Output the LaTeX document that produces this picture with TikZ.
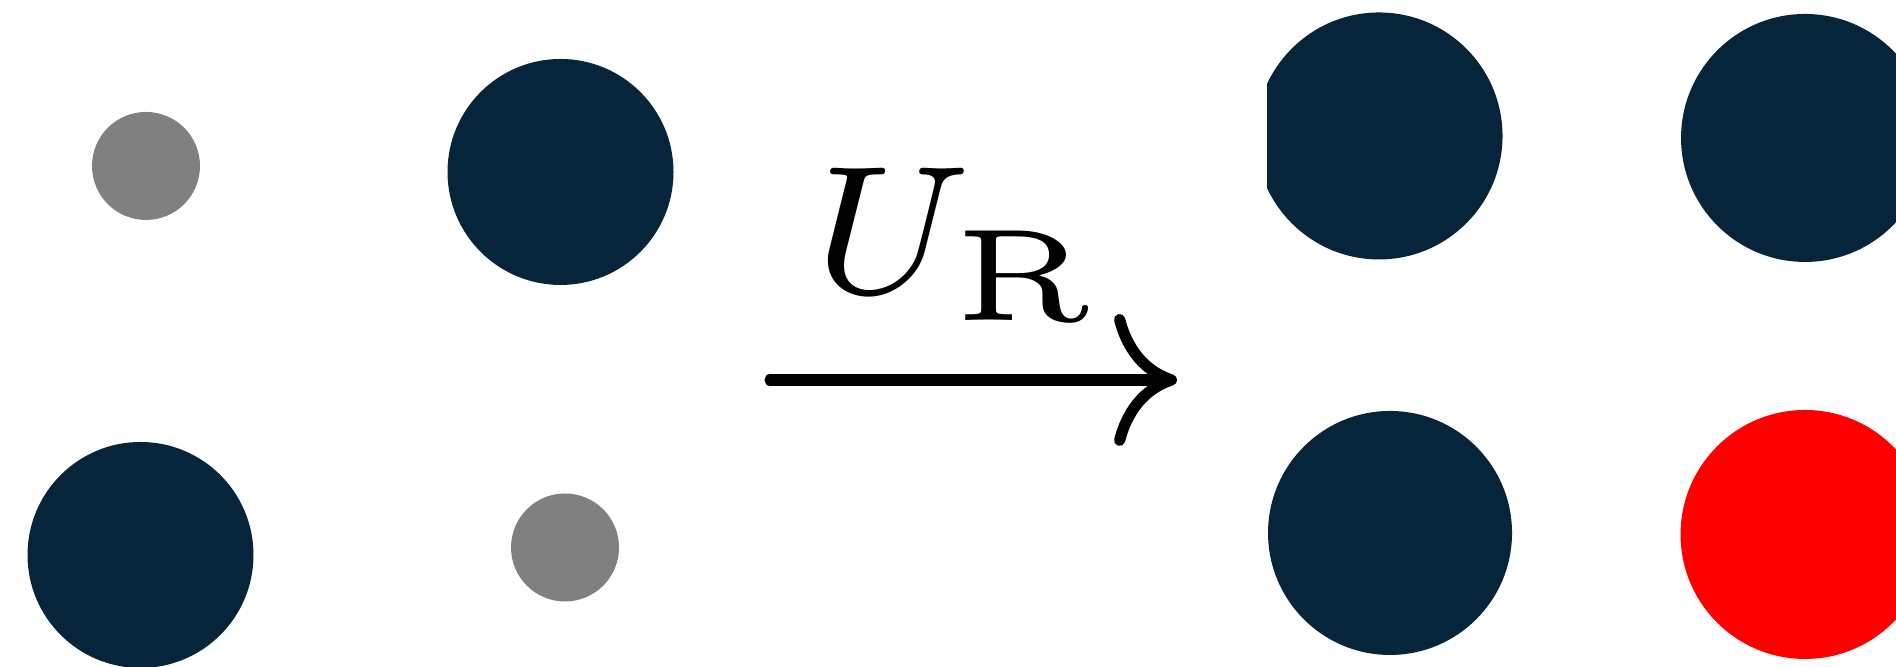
\documentclass[tikz,border=0pt]{standalone}
\usetikzlibrary{arrows.meta}
\definecolor{navy}{RGB}{7,37,58}
\definecolor{midgray}{RGB}{128,128,128}
\definecolor{pured}{RGB}{255,0,0}
\tikzset{
  dot/.style={circle, inner sep=0pt, outer sep=0pt, draw=none, minimum size=#1},
  bigdot/.style={dot=22.6pt, fill=navy},
  smalldot/.style={dot=10.8pt, fill=midgray},
  mapsto/.style={line width=1.12pt, line cap=round, -{To[length=6.3pt, width=13.2pt]}},
  maplabel/.style={anchor=base west, inner sep=0pt, scale=2.62, font=\fontsize{7}{8}\selectfont},
}
\begin{document}
\begin{tikzpicture}[x=0.1pt, y=-0.1pt]
\useasboundingbox (0,0) rectangle (1896,667);
\clip (0,0) rectangle (1896,667);
% left configuration
\node[smalldot] (g1) at (146,166) {};
\node[bigdot] (d1) at (560.5,172) {};
\node[bigdot] (d2) at (140.5,555) {};
\node[smalldot] (g2) at (565,547.5) {};
% arrow
\coordinate (from) at (770,380);
\coordinate (to) at (1177,380);
\draw[mapsto] (from) -- (to);
\node[maplabel] (lab) at (806,294) {$U_{\scalebox{1.1}[1]{$\scriptscriptstyle\mathrm{R}$}}$};
% right configuration
\begin{scope}
\clip (1267,0) rectangle (1896,667);
\node[dot=24.7pt, fill=navy] (r1) at (1379,136) {};
\end{scope}
\node[dot=24.8pt, fill=navy] (r2) at (1805,138) {};
\node[dot=24.4pt, fill=navy] (r3) at (1390,533) {};
\node[dot=24.9pt, fill=pured] (r4) at (1805,534.5) {};
\end{tikzpicture}
\end{document}
